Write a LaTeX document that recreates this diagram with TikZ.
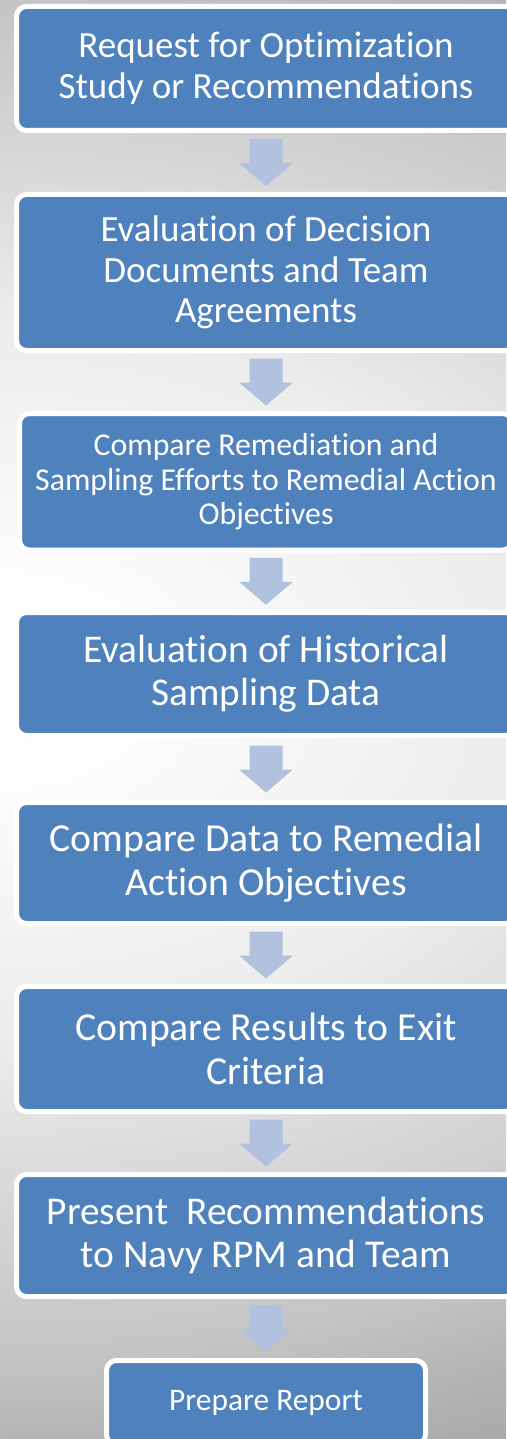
\documentclass[tikz,border=0pt]{standalone}
\usepackage{fontspec}
\setmainfont{Carlito}[Ligatures={NoCommon,NoContextual}]
\usetikzlibrary{calc}
\definecolor{boxblue}{RGB}{79,129,189}
\definecolor{arrowc}{RGB}{176,194,222}
\definecolor{bgA}{RGB}{255,255,255}
\definecolor{bgB}{RGB}{253,253,253}
\definecolor{bgC}{RGB}{236,236,236}
\definecolor{bgD}{RGB}{204,204,204}
\definecolor{bgE}{RGB}{196,196,196}
\definecolor{bgF}{RGB}{180,180,180}
\definecolor{bgG}{RGB}{166,166,166}
\pgfdeclareradialshading{bgshade}{\pgfpoint{0bp}{0bp}}{%
  color(0bp)=(bgA); color(3bp)=(bgB); color(10.5bp)=(bgC); color(18bp)=(bgD);
  color(20bp)=(bgE); color(22.4bp)=(bgF); color(25bp)=(bgG); color(50bp)=(bgG)}
\tikzset{
  stepbox/.style={draw=white, line width=5pt, fill=boxblue, rounded corners=10pt,
    text=white, align=center, inner sep=0pt, outer sep=0pt},
  flowarrowstyle/.style={fill=arrowc, draw=none}
}
\newcommand{\flowarrow}[2]{%
  \path ($(#1.south)!0.5!(#2.north)$) coordinate (m#1);
  \fill[flowarrowstyle] ($(m#1)+(-16.5,-23.5)$) -- ($(m#1)+(16.5,-23.5)$)
    -- ($(m#1)+(16.5,0.5)$) -- ($(m#1)+(27,0.5)$) -- ($(m#1)+(0,23.5)$)
    -- ($(m#1)+(-27,0.5)$) -- ($(m#1)+(-16.5,0.5)$) -- cycle;}
\begin{document}
\begin{tikzpicture}[x=1pt, y=-1pt]
\useasboundingbox (0,0) rectangle (506,1439);
\begin{scope}
  \clip (0,0) rectangle (506,1439);
  \fill[bgG] (0,0) rectangle (506,1439);
  \shade[shading=bgshade] (0,680) ellipse [x radius=1265pt, y radius=850pt];
\end{scope}

\node[stepbox, minimum width=499pt, minimum height=124pt,
  font=\fontsize{37}{40.6}\selectfont] (b1) at (266,68.5)
  {Request for Optimization\\Study or Recommendations};
\node[stepbox, minimum width=499pt, minimum height=156pt,
  font=\fontsize{37}{40.6}\selectfont] (b2) at (266,272.5)
  {Evaluation of Decision\\Documents and Team\\Agreements};
\node[stepbox, minimum width=493pt, minimum height=136.5pt,
  font=\fontsize{31.8}{34.9}\selectfont] (b3) at (266,481.75)
  {Compare Remediation and\\Sampling Efforts to Remedial Action\\Objectives};
\node[stepbox, minimum width=499pt, minimum height=123pt,
  font=\fontsize{39.3}{43.2}\selectfont] (b4) at (266,674)
  {Evaluation of Historical\\Sampling Data};
\node[stepbox, minimum width=499pt, minimum height=121pt,
  font=\fontsize{39.7}{43.6}\selectfont] (b5) at (266,863)
  {Compare Data to Remedial\\Action Objectives};
\node[stepbox, minimum width=499pt, minimum height=125pt,
  font=\fontsize{39.7}{43.6}\selectfont] (b6) at (266,1049)
  {Compare Results to Exit\\Criteria};
\node[stepbox, minimum width=499pt, minimum height=122pt,
  font=\fontsize{39.4}{43.3}\selectfont] (b7) at (266,1235.5)
  {Present\ \ Recommendations\\to Navy RPM and Team};
\node[stepbox, minimum width=319pt, minimum height=84pt,
  font=\fontsize{31.4}{34.5}\selectfont] (b8) at (266,1402.5)
  {Prepare Report};

\flowarrow{b1}{b2}
\flowarrow{b2}{b3}
\flowarrow{b3}{b4}
\flowarrow{b4}{b5}
\flowarrow{b5}{b6}
\flowarrow{b6}{b7}
\flowarrow{b7}{b8}
\end{tikzpicture}
\end{document}
